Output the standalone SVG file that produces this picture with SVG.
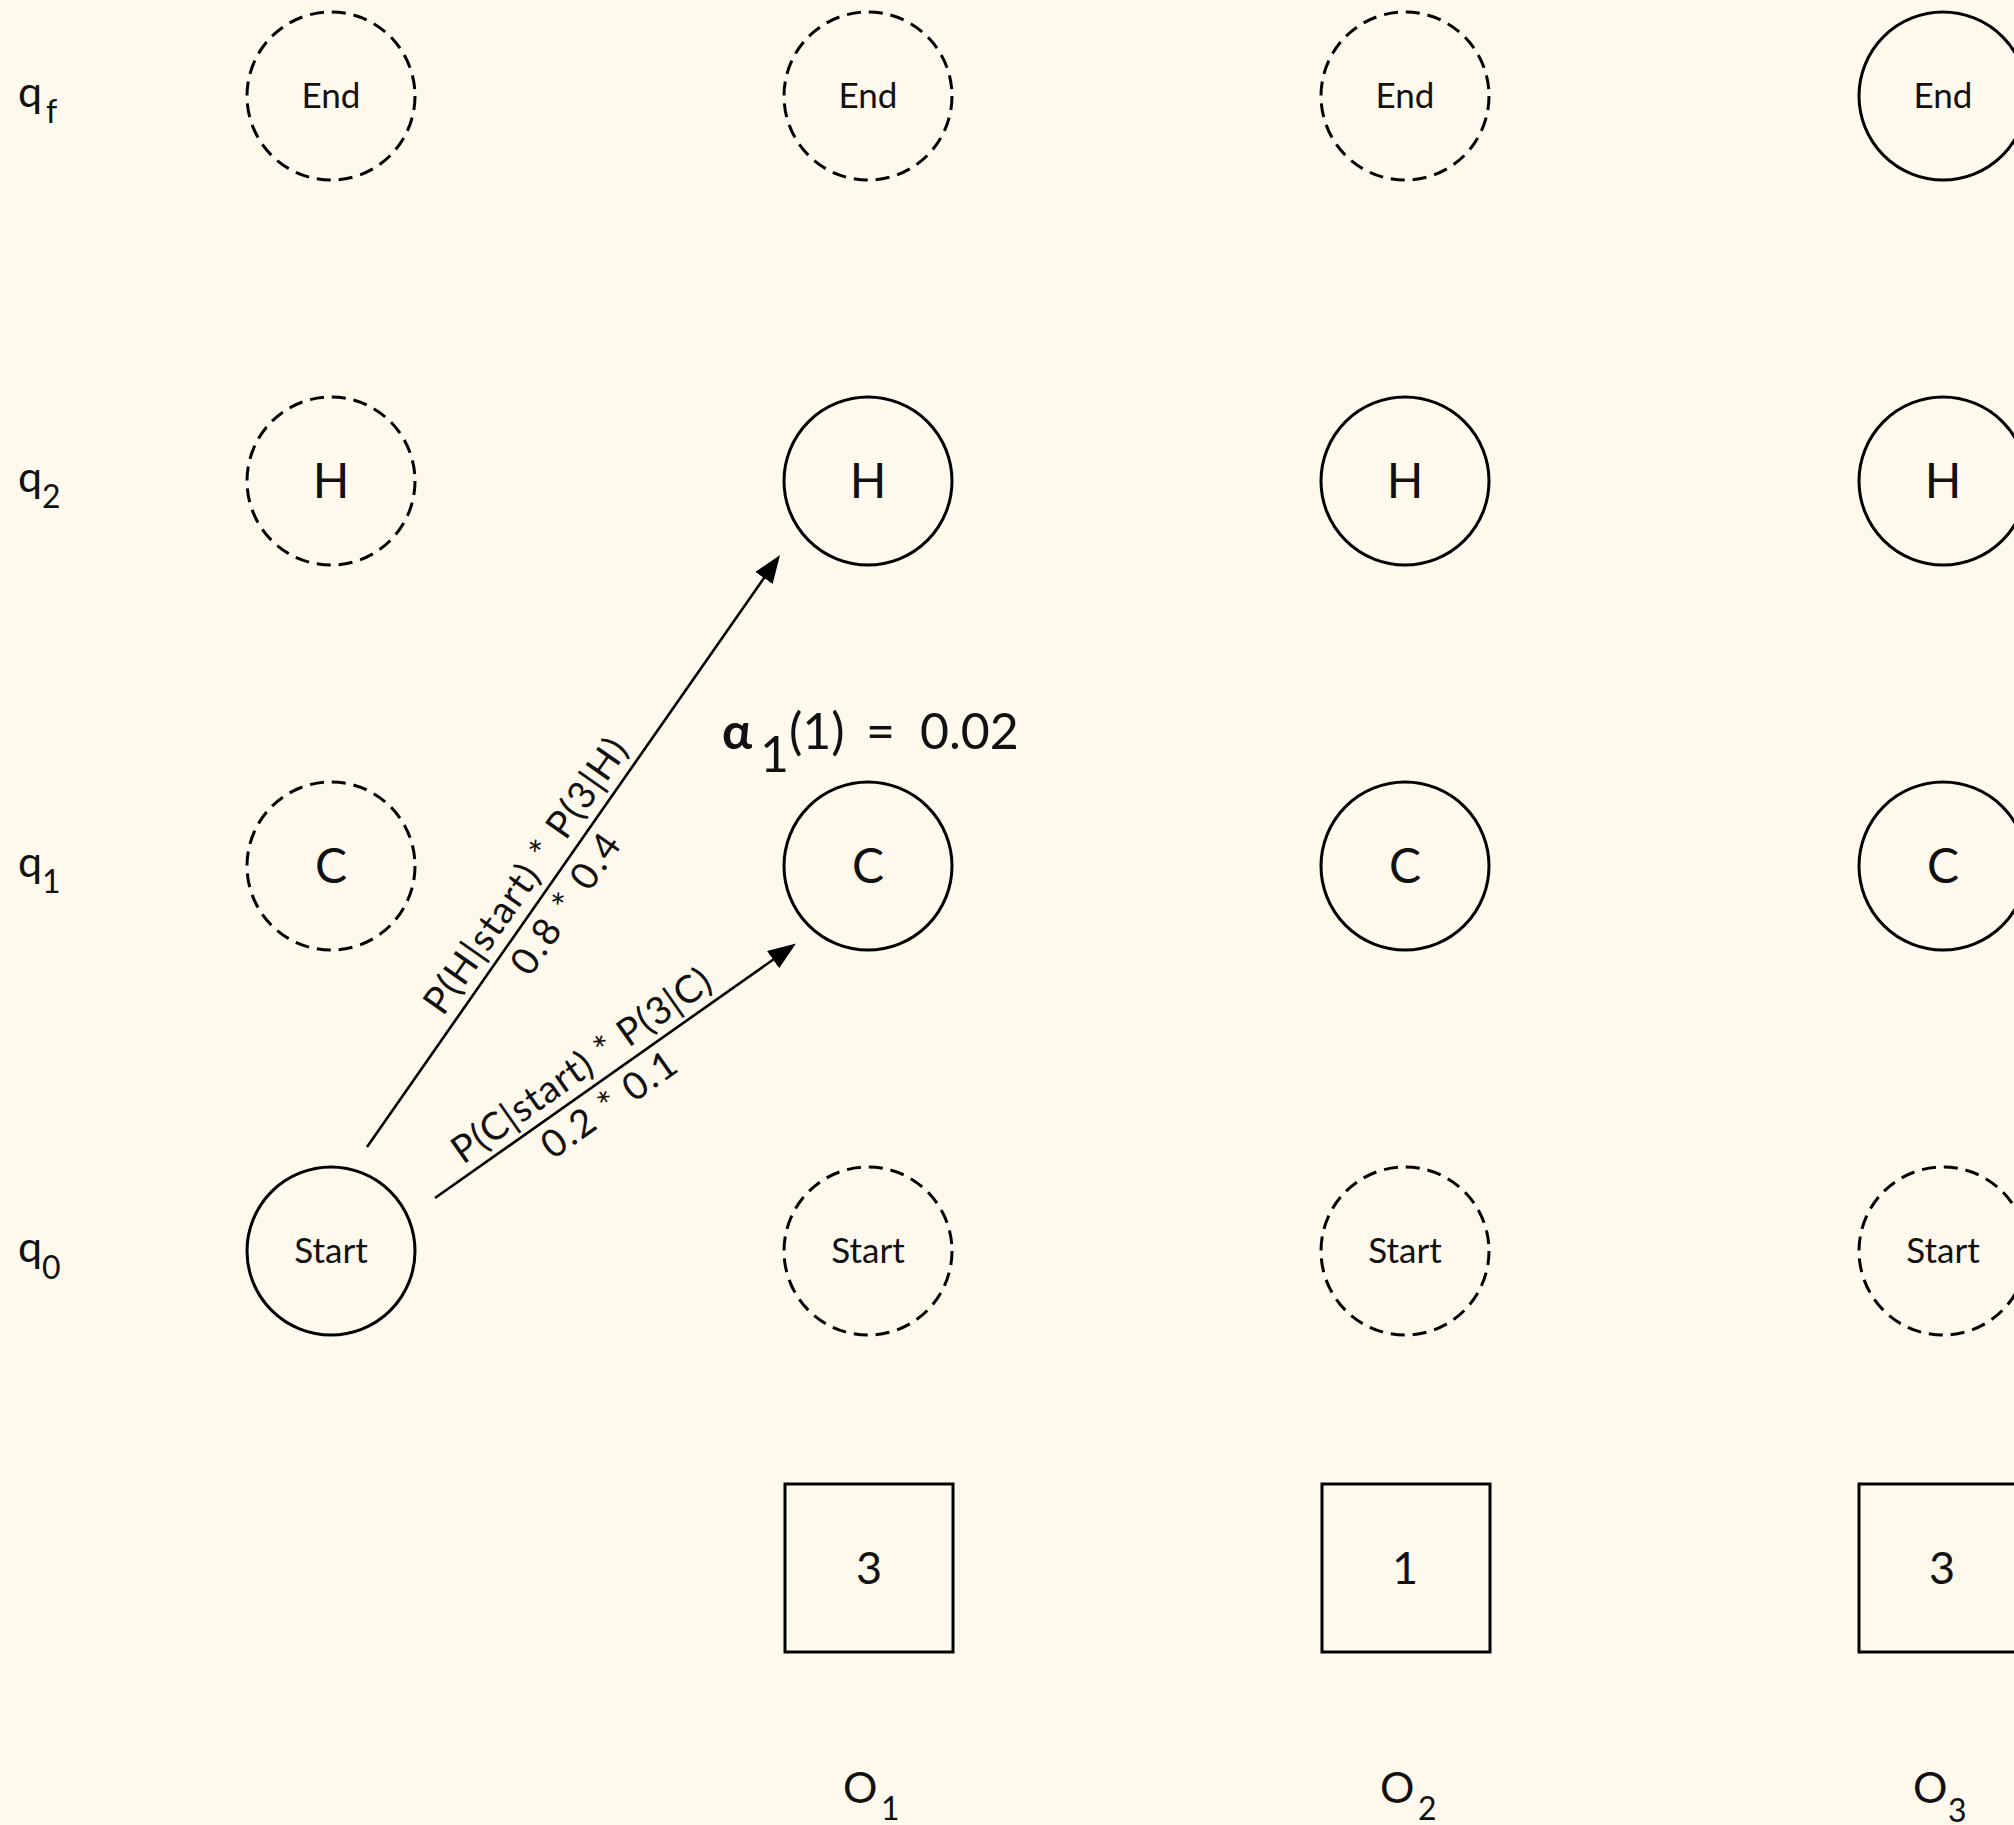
<svg xmlns="http://www.w3.org/2000/svg" width="2014" height="1825" viewBox="0 0 2014 1825">
<defs>
<style>
text{font-family:"Lato","Open Sans",sans-serif;fill:#111;}
.st{fill:none;stroke:#000;stroke-width:3;}
.da{fill:none;stroke:#000;stroke-width:3;stroke-dasharray:14 8;}
.sm{font-size:35px;text-anchor:middle;}
.lg{font-size:48px;text-anchor:middle;}
.dg{font-size:45px;text-anchor:middle;}
.rl{font-size:43px;}
.sb{font-size:32px;}
.lb{font-size:38px;text-anchor:middle;}
.al{font-size:50px;}
.edge{fill:none;stroke:#000;stroke-width:2.6;}
</style>
<marker id="ah" viewBox="0 0 28 21" refX="18" refY="10.5" markerWidth="28" markerHeight="21" markerUnits="userSpaceOnUse" orient="auto">
<path d="M0,0 L28,10.5 L0,21 z" fill="#000"/>
</marker>
</defs>
<rect width="2014" height="1825" fill="#fff8ec"/>

<g id="row-labels">
<text class="rl" x="18" y="107">q<tspan class="sb" x="46" y="123">f</tspan></text>
<text class="rl" x="18" y="492">q<tspan class="sb" x="42" y="508">2</tspan></text>
<text class="rl" x="18" y="877">q<tspan class="sb" x="42" y="893">1</tspan></text>
<text class="rl" x="18" y="1262">q<tspan class="sb" x="42" y="1279">0</tspan></text>
</g>

<g id="col0">
<g id="end0"><circle class="da" cx="331" cy="96" r="84"/><text class="sm" x="331" y="108">End</text></g>
<g id="h0"><circle class="da" cx="331" cy="481" r="84"/><text class="lg" x="331" y="498">H</text></g>
<g id="c0"><circle class="da" cx="331" cy="866" r="84"/><text class="lg" x="331" y="883">C</text></g>
<g id="start0"><circle class="st" cx="331" cy="1251" r="84"/><text class="sm" x="331" y="1263">Start</text></g>
</g>

<g id="col1">
<g id="end1"><circle class="da" cx="868" cy="96" r="84"/><text class="sm" x="868" y="108">End</text></g>
<g id="h1"><circle class="st" cx="868" cy="481" r="84"/><text class="lg" x="868" y="498">H</text></g>
<g id="c1"><circle class="st" cx="868" cy="866" r="84"/><text class="lg" x="868" y="883">C</text></g>
<g id="start1"><circle class="da" cx="868" cy="1251" r="84"/><text class="sm" x="868" y="1263">Start</text></g>
<g id="obs1"><rect class="st" x="785" y="1484" width="168" height="168"/><text class="dg" x="869" y="1584">3</text></g>
</g>

<g id="col2">
<g id="end2"><circle class="da" cx="1405" cy="96" r="84"/><text class="sm" x="1405" y="108">End</text></g>
<g id="h2"><circle class="st" cx="1405" cy="481" r="84"/><text class="lg" x="1405" y="498">H</text></g>
<g id="c2"><circle class="st" cx="1405" cy="866" r="84"/><text class="lg" x="1405" y="883">C</text></g>
<g id="start2"><circle class="da" cx="1405" cy="1251" r="84"/><text class="sm" x="1405" y="1263">Start</text></g>
<g id="obs2"><rect class="st" x="1322" y="1484" width="168" height="168"/><text class="dg" x="1405" y="1584">1</text></g>
</g>

<g id="col3">
<g id="end3"><circle class="st" cx="1943" cy="96" r="84"/><text class="sm" x="1943" y="108">End</text></g>
<g id="h3"><circle class="st" cx="1943" cy="481" r="84"/><text class="lg" x="1943" y="498">H</text></g>
<g id="c3"><circle class="st" cx="1943" cy="866" r="84"/><text class="lg" x="1943" y="883">C</text></g>
<g id="start3"><circle class="da" cx="1943" cy="1251" r="84"/><text class="sm" x="1943" y="1263">Start</text></g>
<g id="obs3"><rect class="st" x="1859" y="1484" width="168" height="168"/><text class="dg" x="1942" y="1584">3</text></g>
</g>

<g id="obs-labels">
<text class="rl" x="843" y="1803">O<tspan class="sb" x="881" y="1820">1</tspan></text>
<text class="rl" x="1380" y="1803">O<tspan class="sb" x="1418" y="1820">2</tspan></text>
<text class="rl" x="1913" y="1803">O<tspan class="sb" x="1948" y="1822">3</tspan></text>
</g>

<g id="alpha">
<text class="al" x="722" y="749"><tspan style="font-weight:bold">α</tspan><tspan x="760" y="772">1</tspan><tspan x="789" y="749">(1)</tspan><tspan x="866" y="749">=</tspan><tspan x="920" y="749">0.02</tspan></text>
</g>

<g id="connectors">
<line class="edge" x1="367" y1="1147" x2="774.3" y2="563.2" marker-end="url(#ah)"/>
<line class="edge" x1="435" y1="1198" x2="787.8" y2="949.3" marker-end="url(#ah)"/>
<g transform="translate(546,890.3) rotate(-55.1)">
<text class="lb" x="0" y="-12" textLength="326" lengthAdjust="spacing">P(H|start) * P(3|H)</text>
<text class="lb" x="0" y="37" textLength="162" lengthAdjust="spacing">0.8 * 0.4</text>
</g>
<g transform="translate(595.1,1085.1) rotate(-35.2)">
<text class="lb" x="0" y="-11" textLength="308" lengthAdjust="spacing">P(C|start) * P(3|C)</text>
<text class="lb" x="0" y="37" textLength="156" lengthAdjust="spacing">0.2 * 0.1</text>
</g>
</g>
</svg>
